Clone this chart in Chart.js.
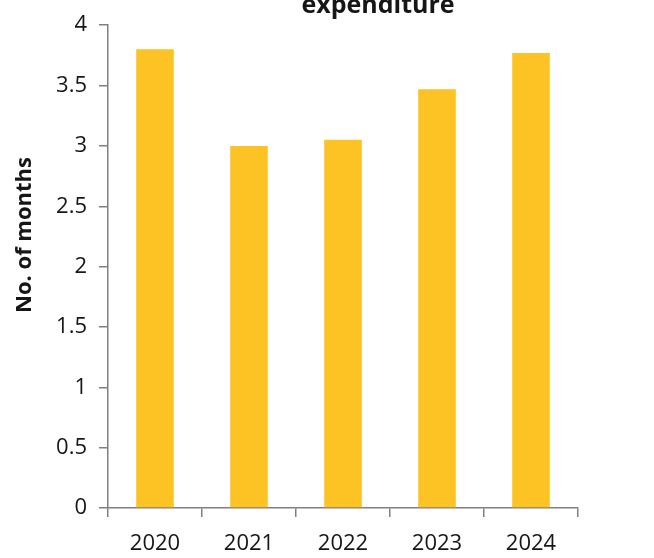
<!DOCTYPE html>
<html>
<head>
<meta charset="utf-8">
<script src="https://cdn.jsdelivr.net/npm/chart.js@4"></script>
<style>
  html, body { margin: 0; padding: 0; background: #fff; }
  #wrap { width: 654px; height: 558px; }
</style>
</head>
<body>
<div id="wrap"><canvas id="chart" width="654" height="558"></canvas></div>
<script>
// chart data
const years = ["2020", "2021", "2022", "2023", "2024"];
const months = [3.8, 3.0, 3.05, 3.47, 3.77];
const titleText = "expenditure";
const yTitle = "No. of months";

const FONT = "'Open Sans', sans-serif";
const INK = "#161616";
const AXIS = "#808080";

// title and rotated y title drawn by hand so they sit where the original has them
const textPlugin = {
  id: "textPlugin",
  afterDraw(chart) {
    const ctx = chart.ctx;
    ctx.save();
    ctx.fillStyle = INK;
    ctx.font = "bold 25px " + FONT;
    ctx.textAlign = "center";
    ctx.textBaseline = "alphabetic";
    ctx.fillText(titleText, 378, 13);

    ctx.translate(25, 235);
    ctx.rotate(-Math.PI / 2);
    ctx.font = "bold 22px " + FONT;
    ctx.textBaseline = "middle";
    ctx.fillText(yTitle, 0, 0);
    ctx.restore();
  },
};

new Chart(document.getElementById("chart"), {
  type: "bar",
  data: {
    labels: years,
    datasets: [
      {
        data: months,
        backgroundColor: "#FDC324",
        borderWidth: 0,
        categoryPercentage: 0.8,
        barPercentage: 0.5,
      },
    ],
  },
  options: {
    responsive: false,
    animation: false,
    layout: { padding: { top: 17, right: 76, left: 0, bottom: 0 } },
    plugins: { legend: { display: false }, tooltip: { enabled: false } },
    scales: {
      x: {
        grid: { offset: true, drawOnChartArea: false, tickLength: 9, color: AXIS, lineWidth: 1.5 },
        border: { color: AXIS, width: 1.5 },
        ticks: { color: INK, font: { family: FONT, size: 22, weight: 500 }, padding: 14 },
        afterFit: (s) => { s.height = 50; },
      },
      y: {
        min: 0,
        max: 4,
        ticks: {
          stepSize: 0.5,
          color: INK,
          font: { family: FONT, size: 22, weight: 500 },
          padding: 12,
          callback: (v) => String(Number(v)),
        },
        grid: { drawOnChartArea: false, tickLength: 9, color: AXIS, lineWidth: 1.5 },
        border: { color: AXIS, width: 1.5 },
        afterFit: (s) => { s.width = 108; },
      },
    },
  },
  plugins: [textPlugin],
});
</script>
</body>
</html>
